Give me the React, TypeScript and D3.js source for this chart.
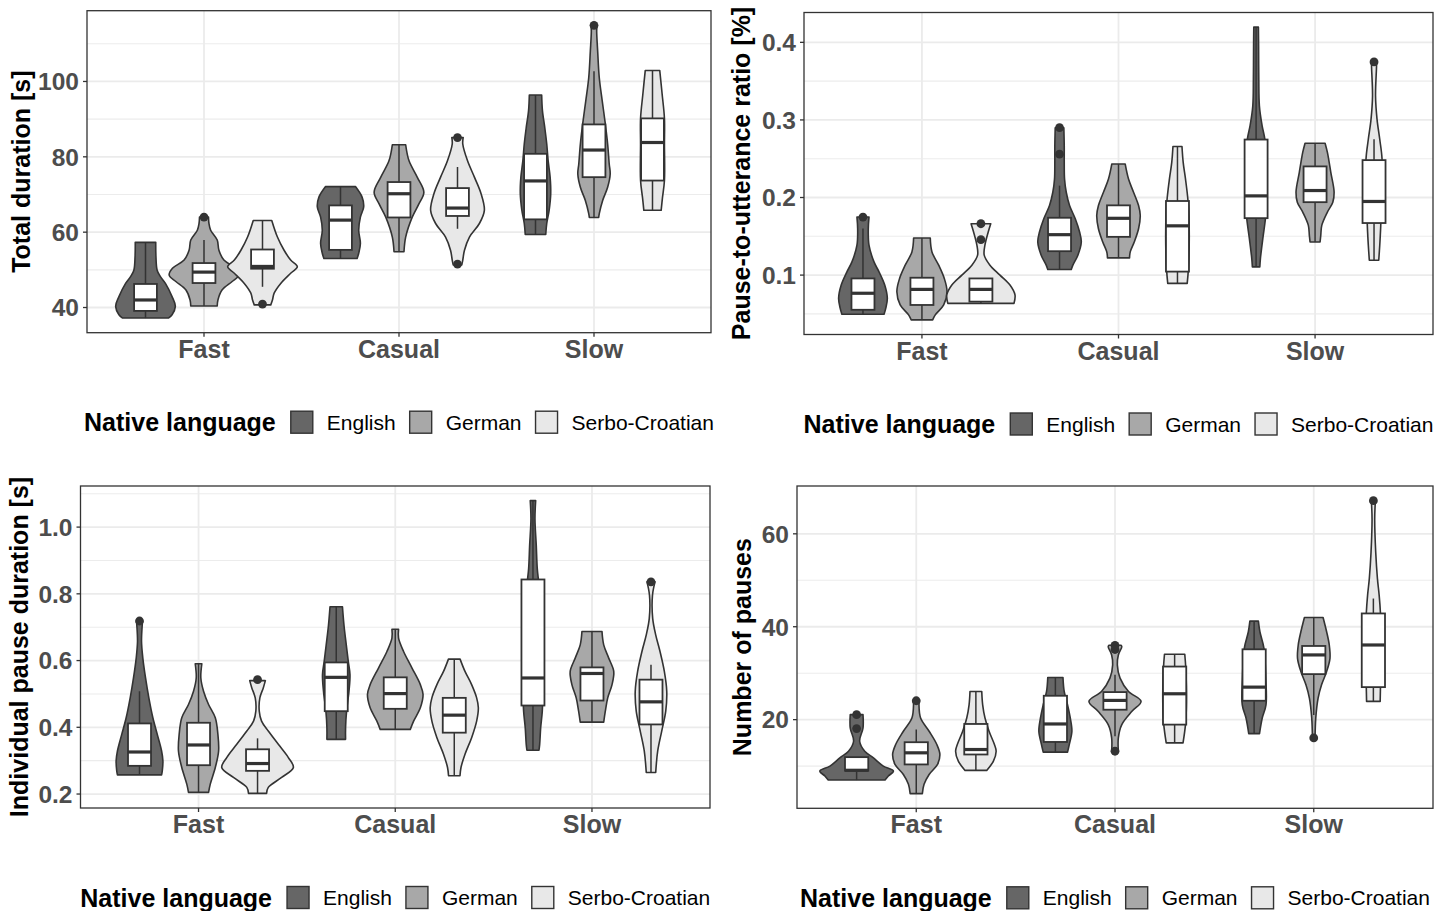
import React, { useEffect, useRef } from "react";
import * as d3 from "d3";

const categories = ["Fast", "Casual", "Slow"];
const languages = ["English", "German", "Serbo-Croatian"];
const languageFills = ["#666666", "#a8a8a8", "#e8e8e8"];
const legendTitle = "Native language";

// ---- Panel 1: Total duration [s] (order: Fast E,G,S, Casual E,G,S, Slow E,G,S)
const durationTicks = [40, 60, 80, 100];
const durationMinor = [50, 70, 90, 110];
const durationProfiles: [number, number][][] = [
  [[37.2, 23], [38.1, 26.7], [40.3, 30], [42.9, 26.7], [46.4, 20], [48.2, 15], [49.9, 11.7], [53.5, 10.5], [57.3, 10.3]],
  [[40.4, 13.3], [42.0, 14], [44.7, 18.3], [46.9, 28.3], [48.6, 35], [50.4, 31.7], [52.6, 20], [55.2, 15], [57.9, 13.3], [60.5, 6.7], [62.3, 5], [64.0, 4.5]],
  [[40.7, 8.3], [42.0, 10], [43.8, 11.7], [46.4, 18.3], [49.1, 28.3], [50.8, 35], [52.6, 28.3], [55.2, 21.7], [58.7, 15], [63.1, 9.3]],
  [[53.0, 16.7], [54.4, 18.3], [57.0, 20], [60.5, 18.3], [64.0, 20], [66.7, 23.3], [69.3, 21.7], [72.1, 15]],
  [[54.8, 5], [58.7, 6.7], [64.0, 13.3], [67.5, 20], [70.6, 25], [74.6, 18.3], [79.0, 10], [83.2, 6.7]],
  [[51.3, 4.3], [52.6, 5.3], [55.2, 7], [58.7, 12], [62.3, 22], [65.8, 27], [70.2, 23.7], [74.6, 17], [79.0, 10], [83.4, 5.3], [85.1, 5.7]],
  [[59.4, 10.3], [62.3, 11.3], [65.8, 13.7], [70.2, 15.3], [74.6, 14.7], [79.0, 12.7], [83.4, 11.3], [87.8, 9.3], [92.2, 7], [96.4, 6.2]],
  [[63.9, 4.7], [64.9, 5.3], [68.4, 8.7], [71.9, 13.7], [75.5, 16.3], [78.1, 15.3], [83.4, 13.7], [89.5, 11], [94.8, 8.3], [101.0, 5.3], [108.0, 3.7], [113.3, 2.7], [114.9, 3]],
  [[65.8, 8.7], [69.1, 10], [73.7, 12], [83.4, 12], [90.2, 12], [96.6, 9.7], [102.9, 7.3]],
];
// [lower whisker, q1, median, q3, upper whisker]
const durationBoxes = [
  [37.2, 39.1, 42.0, 46.25, 57.3],
  [40.4, 46.5, 49.4, 51.8, 57.9],
  [45.5, 50.3, 50.9, 55.4, 63.1],
  [53.0, 55.3, 63.2, 67.1, 72.1],
  [54.8, 63.9, 70.2, 73.3, 83.2],
  [60.9, 64.3, 66.4, 71.7, 77.3],
  [59.4, 63.4, 73.6, 80.8, 96.4],
  [63.9, 74.6, 81.8, 88.6, 102.7],
  [65.8, 73.7, 83.8, 90.2, 102.9],
];
const durationOutliers = [[], [64.0], [40.9], [], [], [85.1, 51.5], [], [114.9], []];

// ---- Panel 2: Pause-to-utterance ratio
const ratioTicks = [0.1, 0.2, 0.3, 0.4];
const ratioMinor = [0.05, 0.15, 0.25, 0.35];
const ratioProfiles: [number, number][][] = [
  [[0.0495, 21], [0.0572, 22.7], [0.07, 24.3], [0.0872, 21.7], [0.1042, 16], [0.117, 11], [0.1385, 6], [0.1598, 5.3], [0.1748, 6]],
  [[0.0423, 10.7], [0.0487, 13.3], [0.0615, 21.7], [0.0786, 25], [0.0957, 22.3], [0.1128, 16.7], [0.1299, 10], [0.1478, 8.3]],
  [[0.0636, 33], [0.0744, 34], [0.0872, 29], [0.1, 19], [0.1128, 9], [0.1257, 3.3], [0.1385, 4], [0.1555, 7.3], [0.1662, 9.8]],
  [[0.1072, 11.7], [0.1128, 13.3], [0.1257, 18.3], [0.1427, 21.7], [0.1555, 20], [0.1726, 15.7], [0.1897, 10], [0.2068, 6.7], [0.2239, 5], [0.2453, 4.7], [0.2667, 4.7], [0.29, 4.3]],
  [[0.1222, 11], [0.1299, 11.7], [0.1427, 15.7], [0.1598, 20], [0.1769, 21.7], [0.1897, 20], [0.2068, 15], [0.2239, 10], [0.2431, 6.7]],
  [[0.0893, 9.7], [0.1042, 10.7], [0.1385, 11.7], [0.1812, 11.3], [0.2026, 10], [0.2239, 8], [0.2453, 5.7], [0.2658, 4.5]],
  [[0.1106, 3.7], [0.1213, 4.3], [0.147, 6.7], [0.1726, 9.3], [0.2026, 11], [0.2453, 10], [0.2752, 8.7], [0.2926, 6], [0.318, 3.3], [0.3521, 2.7], [0.3949, 2.5], [0.4196, 2.3]],
  [[0.1427, 5], [0.1513, 5.7], [0.1641, 6.7], [0.1812, 12.3], [0.194, 17.7], [0.2068, 19], [0.2324, 15.7], [0.2581, 12.3], [0.27, 10]],
  [[0.1192, 4.7], [0.1385, 5.7], [0.1641, 6.7], [0.2068, 7.5], [0.2495, 8], [0.2751, 5.7], [0.3008, 3], [0.3308, 1.5], [0.3692, 2.5], [0.3747, 2.5]],
];
const ratioBoxes = [
  [0.0495, 0.0553, 0.0766, 0.0957, 0.16],
  [0.0423, 0.0615, 0.0816, 0.0966, 0.1478],
  [0.0636, 0.0658, 0.0816, 0.0957, 0.0957],
  [0.1072, 0.1308, 0.1521, 0.1739, 0.2153],
  [0.1222, 0.1493, 0.1732, 0.1899, 0.2431],
  [0.0893, 0.1045, 0.1635, 0.1955, 0.2658],
  [0.1106, 0.1734, 0.2021, 0.2747, 0.4196],
  [0.1427, 0.194, 0.209, 0.2401, 0.27],
  [0.1192, 0.1671, 0.1949, 0.2482, 0.2751],
];
const ratioOutliers = [[0.1748], [], [0.1662, 0.1456], [0.29, 0.2559], [], [], [], [], [0.3747]];

// ---- Panel 3: Individual pause duration [s]
const pauseTicks = [0.2, 0.4, 0.6, 0.8, 1.0];
const pauseMinor = [0.3, 0.5, 0.7, 0.9, 1.1];
const pauseProfiles: [number, number][][] = [
  [[0.2575, 22], [0.2694, 22.7], [0.2993, 23.3], [0.329, 22], [0.3788, 17.7], [0.4286, 13.3], [0.4882, 9.3], [0.5478, 6], [0.6074, 3.3], [0.657, 2], [0.7067, 2.7], [0.7186, 3]],
  [[0.205, 10], [0.2298, 11.7], [0.2795, 16.7], [0.329, 20], [0.3788, 19.3], [0.4286, 16.7], [0.4683, 10], [0.508, 5], [0.5478, 2.3], [0.5905, 3.3]],
  [[0.202, 9], [0.22, 10.7], [0.2497, 24], [0.2795, 35.7], [0.3093, 30.7], [0.349, 20.7], [0.3887, 10.7], [0.4185, 4], [0.4483, 1.7], [0.4882, 2.3], [0.518, 5.7], [0.5398, 7.8]],
  [[0.3639, 9.3], [0.3988, 9.3], [0.4483, 10.3], [0.508, 12.7], [0.5577, 13.7], [0.5974, 12], [0.6471, 10], [0.7067, 7.7], [0.7613, 6.2]],
  [[0.3937, 15], [0.4185, 18.3], [0.4584, 25], [0.498, 27.7], [0.5279, 25], [0.5776, 16.7], [0.6272, 8.3], [0.667, 3.3], [0.6939, 3.3]],
  [[0.2546, 5.7], [0.2795, 6.7], [0.3193, 10.7], [0.369, 17.3], [0.4185, 22.3], [0.4584, 24], [0.4882, 22.3], [0.5279, 17.3], [0.5675, 10.7], [0.6044, 5.8]],
  [[0.3312, 6], [0.349, 6.7], [0.3988, 7.7], [0.4483, 9.3], [0.5279, 10], [0.677, 9], [0.826, 6], [0.8757, 4.3], [0.9452, 3.3], [1.0247, 2], [1.0793, 2.7]],
  [[0.4155, 11.7], [0.4483, 13.3], [0.4882, 15.7], [0.5279, 20], [0.5675, 21.7], [0.6074, 16.7], [0.6471, 11.7], [0.6869, 10]],
  [[0.2646, 4.7], [0.329, 6.7], [0.3887, 10.7], [0.4483, 14.7], [0.508, 15.7], [0.5675, 13.3], [0.6272, 9], [0.677, 4.7], [0.7266, 1.7], [0.7961, 1.5], [0.8358, 4]],
];
const pauseBoxes = [
  [0.2575, 0.2845, 0.326, 0.4116, 0.508],
  [0.205, 0.2864, 0.347, 0.4136, 0.5905],
  [0.202, 0.2695, 0.2914, 0.3341, 0.3669],
  [0.3639, 0.4483, 0.5497, 0.5944, 0.7613],
  [0.3937, 0.4554, 0.501, 0.5497, 0.6939],
  [0.2546, 0.3839, 0.4364, 0.4882, 0.6044],
  [0.3312, 0.4653, 0.5478, 0.843, 1.0793],
  [0.4155, 0.4802, 0.5613, 0.5795, 0.6869],
  [0.2646, 0.4086, 0.4763, 0.5428, 0.5875],
];
const pauseOutliers = [[0.7186], [], [0.5428], [], [], [], [], [], [0.8358]];

// ---- Panel 4: Number of pauses
const countTicks = [20, 40, 60];
const countMinor = [10, 30, 50];
const countProfiles: [number, number][][] = [
  [[7.0, 28], [7.86, 31.3], [8.93, 36.3], [10.0, 26.3], [11.8, 16.3], [13.2, 8], [15.35, 3], [18.2, 6.3], [21.07, 6.3]],
  [[4.07, 6], [6.07, 7.7], [8.2, 12.7], [10.36, 21], [12.5, 23.3], [14.64, 20.3], [17.5, 12.7], [20.36, 4.3], [23.2, 2.7], [24.07, 3]],
  [[9.07, 10.7], [11.07, 17.3], [13.2, 20], [14.64, 18.3], [17.5, 13], [20.36, 9], [23.2, 6.7], [26.07, 5.8]],
  [[13.0, 12], [14.64, 13.7], [17.5, 16.3], [20.36, 14.7], [23.2, 12], [26.07, 8.7], [29.07, 7.5]],
  [[13.2, 3.3], [16.07, 3.3], [18.93, 6.7], [21.79, 16.7], [23.93, 25.7], [26.07, 13.3], [28.93, 5], [31.79, 2.3], [33.93, 3.3], [35.7, 6.7], [36.0, 6]],
  [[15.0, 8.3], [18.93, 10.7], [23.93, 11.7], [31.07, 11], [34.07, 10]],
  [[17.0, 5.3], [20.36, 8], [23.2, 11.7], [29, 11.5], [35.36, 9.7], [38.92, 5.7], [41.2, 4.2]],
  [[16.07, 1.3], [20.36, 2], [24.64, 4.3], [27.5, 7.7], [30.36, 12.7], [33.2, 16], [36.07, 15.3], [38.92, 12.7], [42.0, 9.2]],
  [[23.93, 6.7], [27, 7], [36, 8], [42.86, 7], [46.79, 5.7], [50.36, 4], [56.07, 2.3], [63.21, 1.3], [67.14, 2]],
];
const countBoxes = [
  [7.0, 9.0, 9.1, 11.93, 11.93],
  [4.07, 10.36, 12.86, 15.14, 17.86],
  [9.07, 12.5, 13.57, 19.07, 26.07],
  [13.0, 15.2, 19.07, 25.14, 29.07],
  [16.4, 22.14, 24.14, 25.93, 29.64],
  [15.0, 18.93, 25.57, 31.43, 34.07],
  [17.0, 24.07, 27.0, 35.14, 41.2],
  [21.0, 29.8, 33.93, 35.86, 42.0],
  [23.93, 27.0, 36.07, 42.86, 46.07],
];
const countOutliers = [[21.07, 18.07], [24.07], [], [], [36.0, 35.1, 13.2], [], [], [16.07], [67.14]];

type Panel = {
  title: string;
  ticks: number[];
  minor: number[];
  fmt: string;
  profiles: [number, number][][];
  boxes: number[][];
  outliers: number[][];
  left: number;
  right: number;
  top: number;
  bottom: number;
  titleX: number;
};

const panels: Panel[] = [
  { title: "Total duration [s]", ticks: durationTicks, minor: durationMinor, fmt: "d", profiles: durationProfiles, boxes: durationBoxes, outliers: durationOutliers, left: 87, right: 711, top: 10.7, bottom: 332.7, titleX: 30 },
  { title: "Pause-to-utterance ratio [%]", ticks: ratioTicks, minor: ratioMinor, fmt: ".1f", profiles: ratioProfiles, boxes: ratioBoxes, outliers: ratioOutliers, left: 804, right: 1433, top: 12.5, bottom: 334.5, titleX: 750 },
  { title: "Individual pause duration [s]", ticks: pauseTicks, minor: pauseMinor, fmt: ".1f", profiles: pauseProfiles, boxes: pauseBoxes, outliers: pauseOutliers, left: 80.5, right: 710, top: 486, bottom: 808, titleX: 28 },
  { title: "Number of pauses", ticks: countTicks, minor: countMinor, fmt: "d", profiles: countProfiles, boxes: countBoxes, outliers: countOutliers, left: 797, right: 1433, top: 486, bottom: 808.3, titleX: 751 },
];

const FONT = "'Liberation Sans', Arial, Helvetica, sans-serif";
const DARK = "#333333";

function drawPanel(svg: any, p: Panel) {
  const g = svg.append("g");
  const vals: number[] = [];
  p.profiles.forEach((pr) => pr.forEach((d) => vals.push(d[0])));
  p.outliers.forEach((o) => o.forEach((v) => vals.push(v)));
  const [mn, mx] = d3.extent(vals) as [number, number];
  const pad = (mx - mn) * 0.05;
  const y = d3.scaleLinear().domain([mn - pad, mx + pad]).range([p.bottom, p.top]);
  const x = d3.scalePoint<string>().domain(categories).range([p.left, p.right]).padding(0.6);
  const step = x.step();
  const dodge = d3.scalePoint<string>().domain(languages).range([-0.3 * step, 0.3 * step]);
  const wScale = d3.scaleLinear().domain([0, 196]).range([0, step]);
  const boxW = 0.117 * step;
  const fmt = d3.format(p.fmt);

  g.append("rect").attr("x", p.left).attr("y", p.top).attr("width", p.right - p.left).attr("height", p.bottom - p.top).attr("fill", "#ffffff");

  g.selectAll(".minor").data(p.minor.filter((v) => v > y.domain()[0] && v < y.domain()[1])).enter().append("line")
    .attr("x1", p.left).attr("x2", p.right).attr("y1", (d: number) => y(d)).attr("y2", (d: number) => y(d))
    .attr("stroke", "#ececec").attr("stroke-width", 1.1);
  g.selectAll(".major").data(p.ticks).enter().append("line")
    .attr("x1", p.left).attr("x2", p.right).attr("y1", (d: number) => y(d)).attr("y2", (d: number) => y(d))
    .attr("stroke", "#ebebeb").attr("stroke-width", 1.8);
  g.selectAll(".vgrid").data(categories).enter().append("line")
    .attr("x1", (d: string) => x(d)!).attr("x2", (d: string) => x(d)!).attr("y1", p.top).attr("y2", p.bottom)
    .attr("stroke", "#ebebeb").attr("stroke-width", 1.8);

  const cxOf = (i: number) => (x(categories[Math.floor(i / 3)]) as number) + (dodge(languages[i % 3]) as number);

  p.profiles.forEach((prof, i) => {
    const cx = cxOf(i);
    const area = d3.area<[number, number]>()
      .y((d) => y(d[0]))
      .x0((d) => cx - wScale(d[1]))
      .x1((d) => cx + wScale(d[1]))
      .curve(d3.curveCatmullRom.alpha(0.5));
    g.append("path").attr("d", area(prof)).attr("fill", languageFills[i % 3])
      .attr("stroke", DARK).attr("stroke-width", 1.6).attr("stroke-linejoin", "round");
  });

  p.boxes.forEach((b, i) => {
    const cx = cxOf(i);
    const [lw, q1, med, q3, uw] = b;
    g.append("line").attr("x1", cx).attr("x2", cx).attr("y1", y(lw)).attr("y2", y(q1)).attr("stroke", DARK).attr("stroke-width", 1.5);
    g.append("line").attr("x1", cx).attr("x2", cx).attr("y1", y(q3)).attr("y2", y(uw)).attr("stroke", DARK).attr("stroke-width", 1.5);
    g.append("rect").attr("x", cx - boxW / 2).attr("y", y(q3)).attr("width", boxW).attr("height", Math.max(0.5, y(q1) - y(q3)))
      .attr("fill", "#ffffff").attr("stroke", DARK).attr("stroke-width", 1.8);
    g.append("line").attr("x1", cx - boxW / 2).attr("x2", cx + boxW / 2).attr("y1", y(med)).attr("y2", y(med))
      .attr("stroke", DARK).attr("stroke-width", 3.2);
  });

  p.outliers.forEach((o, i) => {
    const cx = cxOf(i);
    o.forEach((v) => {
      g.append("circle").attr("cx", cx).attr("cy", y(v)).attr("r", 4.4).attr("fill", DARK);
    });
  });

  g.append("rect").attr("x", p.left).attr("y", p.top).attr("width", p.right - p.left).attr("height", p.bottom - p.top)
    .attr("fill", "none").attr("stroke", DARK).attr("stroke-width", 1.3);

  g.selectAll(".xt").data(categories).enter().append("line")
    .attr("x1", (d: string) => x(d)!).attr("x2", (d: string) => x(d)!).attr("y1", p.bottom).attr("y2", p.bottom + 4)
    .attr("stroke", DARK).attr("stroke-width", 1.3);
  g.selectAll(".yt").data(p.ticks).enter().append("line")
    .attr("x1", p.left - 4).attr("x2", p.left).attr("y1", (d: number) => y(d)).attr("y2", (d: number) => y(d))
    .attr("stroke", DARK).attr("stroke-width", 1.3);

  g.selectAll(".xl").data(categories).enter().append("text")
    .attr("x", (d: string) => x(d)!).attr("y", p.bottom + 25).attr("text-anchor", "middle")
    .attr("font-family", FONT).attr("font-weight", "bold").attr("font-size", 25).attr("fill", "#4d4d4d")
    .text((d: string) => d);
  g.selectAll(".yl").data(p.ticks).enter().append("text")
    .attr("x", p.left - 8).attr("y", (d: number) => y(d)).attr("dy", "0.36em").attr("text-anchor", "end")
    .attr("font-family", FONT).attr("font-weight", "bold").attr("font-size", 24.5).attr("fill", "#4d4d4d")
    .text((d: number) => fmt(d));

  g.append("text").attr("transform", `translate(${p.titleX},${(p.top + p.bottom) / 2}) rotate(-90)`)
    .attr("text-anchor", "middle").attr("font-family", FONT).attr("font-weight", "bold").attr("font-size", 25)
    .attr("fill", "#000000").text(p.title);

  const cy = p.bottom + 89.5;
  const lg = g.append("g");
  const key = 22;
  const titleEl = lg.append("text").attr("x", 0).attr("y", cy).attr("dy", "0.36em")
    .attr("font-family", FONT).attr("font-weight", "bold").attr("font-size", 25).attr("fill", "#000").text(legendTitle);
  let cursor = (titleEl.node() as SVGTextElement).getComputedTextLength() + 15;
  languages.forEach((lang, i) => {
    lg.append("rect").attr("x", cursor).attr("y", cy - key / 2).attr("width", key).attr("height", key)
      .attr("fill", languageFills[i]).attr("stroke", DARK).attr("stroke-width", 1.4);
    cursor += key + 14;
    const t = lg.append("text").attr("x", cursor).attr("y", cy).attr("dy", "0.36em")
      .attr("font-family", FONT).attr("font-size", 21).attr("fill", "#000").text(lang);
    cursor += (t.node() as SVGTextElement).getComputedTextLength();
    if (i < languages.length - 1) cursor += 14;
  });
  const center = (p.left + p.right) / 2;
  lg.attr("transform", `translate(${center - cursor / 2},0)`);
}

export default function App() {
  const ref = useRef<SVGSVGElement>(null);
  useEffect(() => {
    const svg = d3.select(ref.current);
    svg.selectAll("*").remove();
    panels.forEach((p) => drawPanel(svg, p));
  }, []);
  return (
    <svg ref={ref} width={1447} height={911}
      style={{ position: "absolute", left: 0, top: 0, background: "#ffffff", display: "block" }} />
  );
}
